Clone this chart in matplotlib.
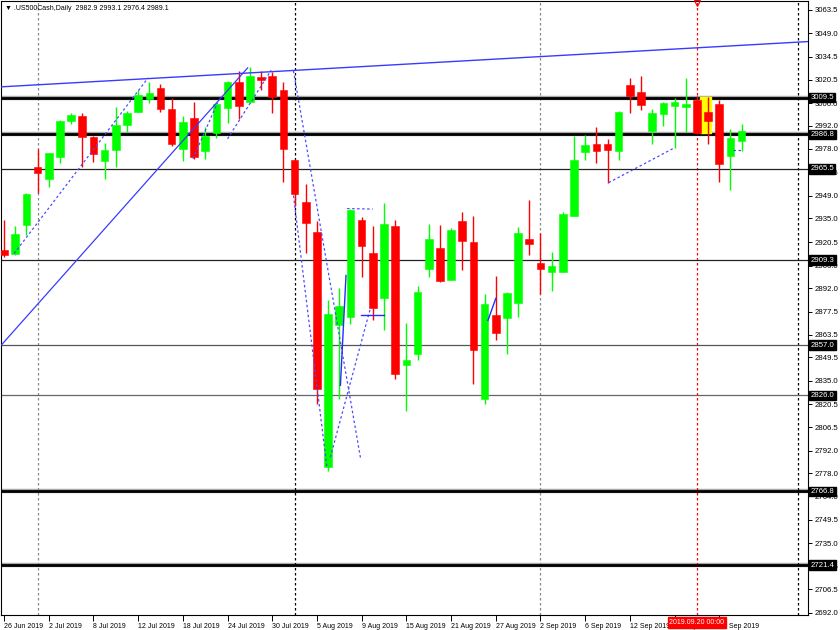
import numpy as np
import matplotlib
matplotlib.use("Agg")
import matplotlib.pyplot as plt
from matplotlib.patches import Rectangle

# -------------------------------------------------------
# 1. DATA (one bar per trading day)
# -------------------------------------------------------
opens = [2915.7, 2913.2, 2931.1, 2966.9, 2959.4, 2972.6, 2995.0, 2998.1, 2985.2, 2970.6,
         2977.5, 2992.8, 3000.9, 3008.9, 3015.1, 3002.4, 2977.8, 2997.2, 2976.3, 2987.4,
         3003.0, 3019.0, 3006.7, 3022.3, 3022.9, 3014.3, 2971.2, 2945.4, 2926.9, 2781.9,
         2869.1, 2874.2, 2934.1, 2913.6, 2885.9, 2930.6, 2844.5, 2851.7, 2904.0, 2917.1,
         2897.4, 2933.7, 2920.8, 2823.6, 2875.7, 2873.6, 2883.1, 2922.4, 2907.8, 2902.3,
         2902.3, 2936.8, 2975.7, 2980.9, 2981.2, 2976.3, 3017.1, 3013.0, 2989.0, 2999.4,
         3004.4, 3003.4, 3007.9, 3000.9, 3005.5, 2973.7, 2982.9]
highs = [2934.1, 2930.6, 2950.8, 2977.8, 2975.6, 2995.5, 3000.0, 3000.1, 2985.7, 2981.7,
         3003.8, 3001.4, 3014.1, 3019.4, 3017.8, 3009.5, 2998.3, 3006.9, 2991.1, 3006.0,
         3019.5, 3025.9, 3028.4, 3025.9, 3025.3, 3019.4, 2971.7, 2956.4, 2933.3, 2884.5,
         2892.3, 2941.0, 2935.7, 2930.6, 2944.3, 2934.1, 2870.5, 2893.7, 2931.6, 2931.0,
         2929.2, 2938.8, 2936.8, 2888.2, 2899.4, 2890.0, 2930.0, 2946.4, 2926.1, 2914.6,
         2938.8, 2986.0, 2986.6, 2991.1, 2983.9, 3001.4, 3021.5, 3022.9, 3002.4, 3006.8,
         3009.5, 3021.8, 3010.6, 3010.0, 3008.0, 2990.1, 2993.1]
lows = [2911.5, 2912.2, 2925.1, 2950.7, 2954.6, 2969.0, 2993.5, 2966.9, 2969.5, 2959.1,
        2966.9, 2988.0, 3000.4, 3006.3, 3000.9, 2979.8, 2970.6, 2971.6, 2971.4, 2984.5,
        2993.8, 2996.2, 3006.2, 3014.1, 2999.7, 2957.2, 2942.9, 2913.6, 2820.9, 2779.5,
        2824.0, 2870.1, 2898.8, 2872.6, 2866.4, 2836.3, 2816.4, 2848.0, 2898.8, 2895.7,
        2896.9, 2903.4, 2833.2, 2820.9, 2859.9, 2851.7, 2874.2, 2912.6, 2888.6, 2890.6,
        2902.0, 2936.3, 2971.2, 2969.0, 2956.6, 2971.0, 2999.7, 3001.8, 2980.9, 2991.7,
        2978.4, 2988.0, 2987.0, 2980.9, 2957.2, 2952.6, 2976.4]
closes = [2912.8, 2925.7, 2950.3, 2962.8, 2975.1, 2995.0, 2998.9, 2985.2, 2974.5, 2977.4,
          2992.8, 2999.7, 3011.0, 3012.4, 3002.4, 2980.9, 2994.2, 2973.0, 2986.0, 3005.5,
          3019.0, 3004.2, 3022.9, 3020.2, 3010.1, 2977.8, 2950.3, 2932.0, 2829.7, 2876.3,
          2881.0, 2940.5, 2918.1, 2879.7, 2931.6, 2839.4, 2848.0, 2890.0, 2922.4, 2896.2,
          2928.1, 2920.9, 2853.7, 2882.4, 2864.4, 2889.0, 2926.1, 2919.3, 2904.0, 2906.0,
          2937.8, 2971.0, 2980.2, 2976.7, 2977.2, 3000.9, 3010.6, 3005.0, 2999.7, 3006.3,
          3006.7, 3005.5, 2987.4, 2995.2, 2968.6, 2984.5, 2989.1]

date_labels = ["26 Jun 2019", "2 Jul 2019", "8 Jul 2019", "12 Jul 2019", "18 Jul 2019",
               "24 Jul 2019", "30 Jul 2019", "5 Aug 2019", "9 Aug 2019", "15 Aug 2019",
               "21 Aug 2019", "27 Aug 2019", "2 Sep 2019", "6 Sep 2019", "12 Sep 2019",
               "18 Sep 2019", "24 Sep 2019"]
date_ticks = list(range(0, 68, 4))

price_ticks = [3063.5, 3049.0, 3034.5, 3020.5, 3006.0, 2992.0, 2978.0, 2963.5, 2949.0,
               2935.0, 2920.5, 2906.0, 2892.0, 2877.5, 2863.5, 2849.5, 2835.0, 2820.5,
               2806.5, 2792.0, 2778.0, 2764.0, 2749.5, 2735.0, 2720.5, 2706.5, 2692.0]

# horizontal levels: price, line width, colour
levels = [3009.5, 2986.8, 2965.5, 2909.3, 2857.0, 2826.0, 2766.8, 2721.4]
level_widths = [2.0, 2.0, 0.9, 0.9, 0.9, 0.9, 2.0, 2.0]
level_colors = ["black", "black", "#222222", "#222222", "#555555", "#666666", "black", "black"]

# vertical separators (bar index)
vlines_idx = [3, 26, 48, 62, 71]
vlines_col = ["#888888", "black", "#888888", "red", "black"]

# trend lines (bar index, price)
trend_main = [(-0.27, 3016.1), (71.94, 3044.0)]
trend_up = [(-0.27, 2856.8), (21.8, 3027.8)]
dotted_segs = [
    [(0.9, 2913.4), (12.9, 3021.7)],
    [(16.9, 2971.8), (19.1, 3006.3)],
    [(20.0, 2984.1), (23.9, 3026.3)],
    [(25.9, 2949.1), (28.9, 2781.2)],
    [(25.9, 3026.0), (31.9, 2787.3)],
    [(29.2, 2787.9), (32.8, 2880.2)],
    [(30.7, 2941.1), (33.0, 2940.8)],
    [(54.1, 2957.1), (60.0, 2978.6)],
    [(65.2, 2977.4), (66.0, 2977.4)],
]
solid_segs = [
    [(31.9, 2875.3), (34.0, 2875.3)],
    [(30.6, 2899.9), (30.1, 2832.2)],
    [(43.3, 2872.2), (44.0, 2885.7)],
]
highlight_box = (62.25, 63.25, 2987.8, 3010.0)

header = "\u25bc .US500Cash,Daily  2982.9 2993.1 2976.4 2989.1"
cursor_label = "2019.09.20 00:00"

# -------------------------------------------------------
# 2. FIGURE
# -------------------------------------------------------
plt.rcParams["font.family"] = ["Liberation Sans", "DejaVu Sans"]

fig = plt.figure(figsize=(8.4, 6.3), dpi=100)
ax = fig.add_axes([0.0012, 15 / 630, 807 / 840, 614 / 630])

o = np.array(opens)
h = np.array(highs)
l = np.array(lows)
c = np.array(closes)
idx = np.arange(len(o))
up = c >= o
cols = np.where(up, "#00ff00", "#ff0000")

# levels
for lv, lw, lc in zip(levels, level_widths, level_colors):
    if lw > 1.5:
        ax.axhline(lv, color="#aaaaaa", lw=lw + 1.2, zorder=1)
    ax.axhline(lv, color=lc, lw=lw, zorder=1.1)

for vx, vc in zip(vlines_idx, vlines_col):
    ax.axvline(vx, color=vc, lw=0.9, ls=(0, (2, 2)), zorder=1)

# yellow highlight behind candles
x0, x1, y0, y1 = highlight_box
ax.add_patch(Rectangle((x0, y0), x1 - x0, y1 - y0, color="#ffff00", zorder=1.5))

# candles
ax.vlines(idx, l, h, colors=cols, lw=1.0, zorder=2)
body_lo = np.minimum(o, c)
body_h = np.maximum(np.abs(c - o), 0.8)
ax.bar(idx, body_h, bottom=body_lo, width=0.68, color=cols, edgecolor=cols,
       linewidth=0.4, zorder=3)

# trend lines
ax.axline(trend_main[0], trend_main[1], color="#3a3aff", lw=1.0, zorder=4)
ax.plot(*zip(*trend_up), color="#3a3aff", lw=0.9, zorder=4)
for seg in dotted_segs:
    ax.plot(*zip(*seg), color="#4b4bff", lw=0.9, ls=(0, (2, 2)), zorder=4)
for seg in solid_segs:
    ax.plot(*zip(*seg), color="#2a2aff", lw=1.0, zorder=4)

# small marker on top of red cursor line
ax.plot([62], [3067.5], marker="v", ms=4, mfc="none", mec="red", mew=0.8,
        clip_on=False, zorder=5)

# -------------------------------------------------------
# 3. AXES
# -------------------------------------------------------
ax.set_xlim(-0.27, 71.94)
ax.set_ylim(2690.7, 3069.0)

ax.yaxis.tick_right()
ax.set_yticks(price_ticks)
ax.set_yticklabels([f"{p:.1f}" for p in price_ticks])
ax.tick_params(axis="y", length=3, width=0.7, labelsize=5.6, pad=2)

ax.set_xticks(date_ticks)
ax.set_xticklabels(date_labels, ha="left")
ax.tick_params(axis="x", length=4, width=0.7, labelsize=5, pad=1.5)

for sp in ax.spines.values():
    sp.set_linewidth(0.8)

# price boxes on the right scale
for lv in levels:
    ax.text(1.003, lv, f"{lv:.1f}", transform=ax.get_yaxis_transform(),
            ha="left", va="center", fontsize=5.6, color="white", zorder=10,
            clip_on=False,
            bbox=dict(boxstyle="square,pad=0.18", fc="black", ec="black"))

# cursor date label
ax.text(62, -0.0125, cursor_label, transform=ax.get_xaxis_transform(),
        ha="center", va="center", fontsize=5, color="white", zorder=10,
        clip_on=False,
        bbox=dict(boxstyle="square,pad=0.25", fc="#ff0000", ec="#ff0000"))

fig.text(5 / 840, 1 - 8 / 630, header, fontsize=5, va="center", ha="left")

fig.savefig("out.png", dpi=100)
